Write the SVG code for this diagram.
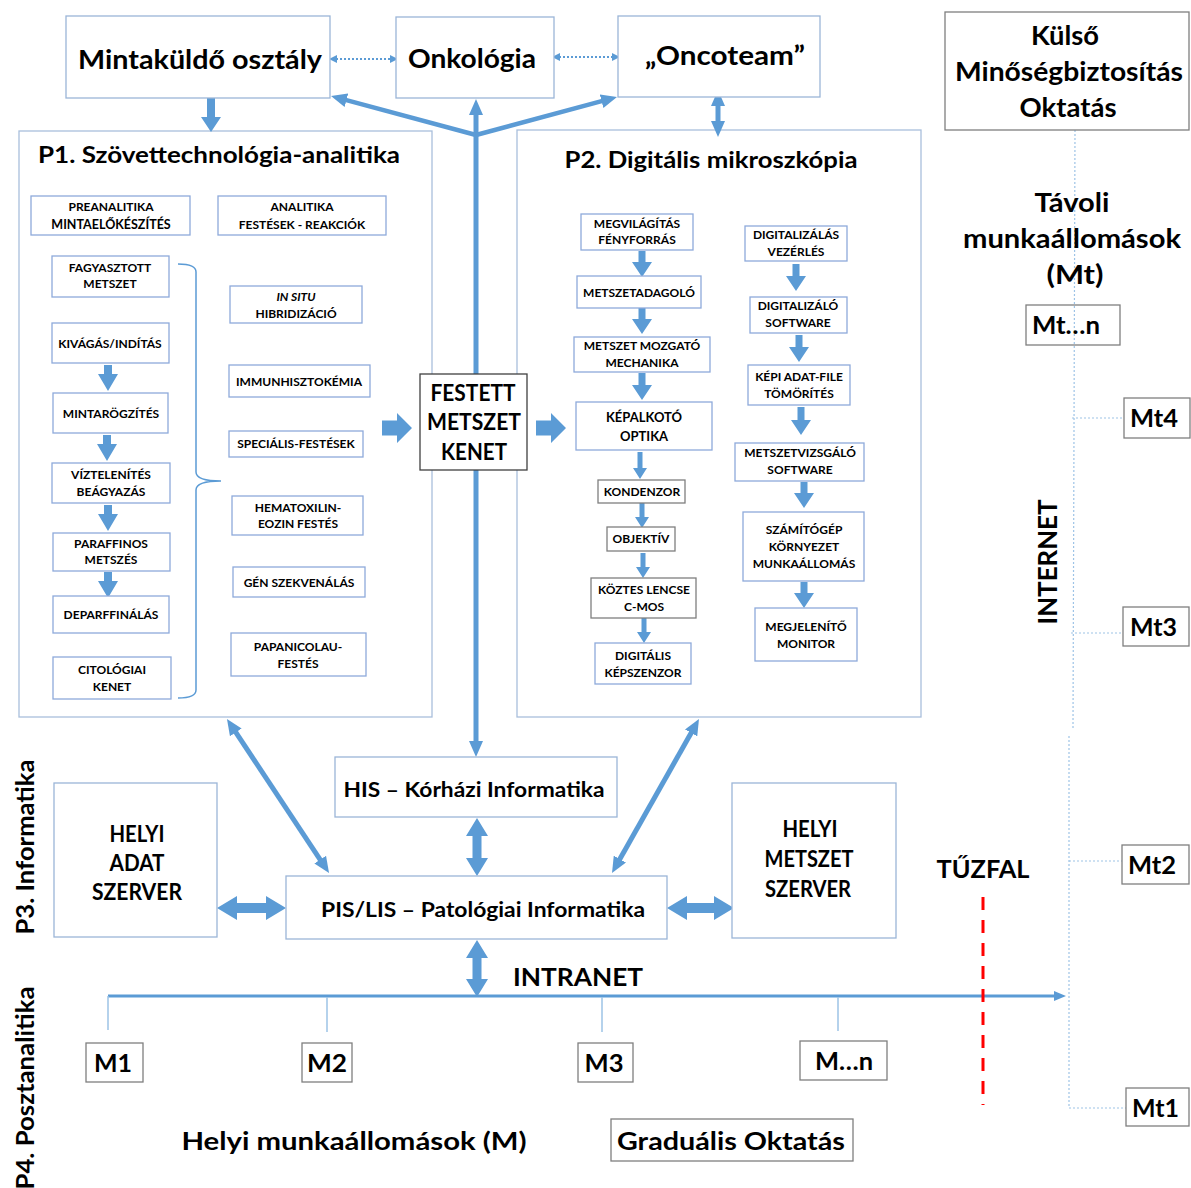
<svg xmlns="http://www.w3.org/2000/svg" width="1191" height="1188" viewBox="0 0 1191 1188">
<defs>
<style>
text{font-family:Lato,'Liberation Sans',sans-serif;font-weight:700;fill:#000;text-anchor:middle}
.s{font-size:12px}
.m{font-size:13px}
.st{text-anchor:start}
.b{fill:#fff;stroke:#9bb5d8;stroke-width:1.3}
.bs{fill:#fff;stroke:#8eaadb;stroke-width:1.3}
.k{fill:#fff;stroke:#7f7f7f;stroke-width:1.3}
.kd{fill:#fff;stroke:#404040;stroke-width:1.3}
.c{fill:none;stroke:#a9bfdc;stroke-width:1.3}
.a{fill:#5b9bd5}
.ln{stroke:#5b9bd5;fill:none}
.dot{stroke:#5b9bd5;stroke-width:2;stroke-dasharray:2 2;fill:none}
.rd{stroke:#9dc3e6;stroke-width:1.2;stroke-dasharray:2 2;fill:none}
.drop{stroke:#9dc3e6;stroke-width:1.5}
</style>
<marker id="ah" viewBox="0 0 16 14" refX="2" refY="7" markerWidth="16" markerHeight="14" markerUnits="userSpaceOnUse" orient="auto-start-reverse"><path d="M0,0 L16,7 L0,14 z" fill="#5b9bd5"/></marker>
<marker id="ahs" viewBox="0 0 8 8" refX="1" refY="4" markerWidth="8" markerHeight="8" markerUnits="userSpaceOnUse" orient="auto-start-reverse"><path d="M0,0 L8,4 L0,8 z" fill="#5b9bd5"/></marker>
<marker id="ahi" viewBox="0 0 12 10" refX="2" refY="5" markerWidth="12" markerHeight="10" markerUnits="userSpaceOnUse" orient="auto"><path d="M0,0 L12,5 L0,10 z" fill="#5b9bd5"/></marker>
</defs>
<rect width="1191" height="1188" fill="#fff"/>

<!-- containers -->
<g id="p1">
<rect x="19" y="131" width="413" height="586" class="c"/>
<text x="38" y="163" class="st" font-size="22" textLength="362" lengthAdjust="spacingAndGlyphs">P1. Szövettechnológia-analitika</text>
</g>
<g id="p2">
<rect x="517" y="130" width="404" height="587" class="c"/>
<text x="711" y="168" font-size="22" textLength="293" lengthAdjust="spacingAndGlyphs">P2. Digitális mikroszkópia</text>
</g>

<!-- connectors -->
<g id="connectors">
<line x1="336" y1="59" x2="391" y2="59" class="dot" marker-start="url(#ahs)" marker-end="url(#ahs)"/>
<line x1="559" y1="57" x2="613" y2="57" class="dot" marker-start="url(#ahs)" marker-end="url(#ahs)"/>
<polygon class="a" points="207,98 215,98 215,117 221,117 211,132 201,117 207,117"/>
<line x1="476" y1="136" x2="476" y2="113" class="ln" stroke-width="5" marker-end="url(#ah)"/>
<line x1="476" y1="133" x2="476" y2="743" class="ln" stroke-width="5" marker-end="url(#ah)"/>
<line x1="476" y1="135" x2="344.5" y2="99.6" class="ln" stroke-width="4.5" marker-end="url(#ah)"/>
<line x1="476" y1="135" x2="603.5" y2="100.6" class="ln" stroke-width="4.5" marker-end="url(#ah)"/>
<line x1="718" y1="104" x2="718" y2="123" class="ln" stroke-width="5" marker-start="url(#ah)" marker-end="url(#ah)"/>
<line x1="234.7" y1="730.7" x2="321.3" y2="861.3" class="ln" stroke-width="5" marker-start="url(#ah)" marker-end="url(#ah)"/>
<line x1="692.1" y1="731.2" x2="618.9" y2="860.8" class="ln" stroke-width="5" marker-start="url(#ah)" marker-end="url(#ah)"/>
<polygon class="a" points="477,818 488,836 481.5,836 481.5,858 488,858 477,876 466,858 472.5,858 472.5,836 466,836"/>
<polygon class="a" points="477,940 488,958 481.5,958 481.5,979 488,979 477,997 466,979 472.5,979 472.5,958 466,958"/>
<polygon class="a" points="217,908 237,896 237,903 266,903 266,896 286,908 266,920 266,913 237,913 237,920"/>
<polygon class="a" points="667,908 687,896 687,903 714,903 714,896 734,908 714,920 714,913 687,913 687,920"/>
<polygon class="a" points="382,420.5 397,420.5 397,413 412,428 397,443 397,435.5 382,435.5"/>
<polygon class="a" points="536,420.5 551,420.5 551,413 566,428 551,443 551,435.5 536,435.5"/>
<!-- P1 flow -->
<polygon class="a" points="104,365 112,365 112,374 118,374 108,391 98,374 104,374"/>
<polygon class="a" points="103,435 111,435 111,444 117,444 107,461 97,444 103,444"/>
<polygon class="a" points="104,505 112,505 112,514 118,514 108,531 98,514 104,514"/>
<polygon class="a" points="104,572 112,572 112,581 118,581 108,598 98,581 104,581"/>
<!-- brace -->
<path d="M178,264 Q196,264 196,272 L196,472 Q196,481 221,481 Q196,481 196,490 L196,690 Q196,698 178,698" fill="none" stroke="#5b9bd5" stroke-width="1.5"/>
<!-- P2 flow -->
<polygon class="a" points="638.5,251 645.5,251 645.5,262 652,262 642,277 632,262 638.5,262"/>
<polygon class="a" points="638.5,308 645.5,308 645.5,319 652,319 642,334 632,319 638.5,319"/>
<polygon class="a" points="638.5,373 645.5,373 645.5,385 652,385 642,400 632,385 638.5,385"/>
<polygon class="a" points="637.5,452 642.5,452 642.5,468 647,468 640,479 633,468 637.5,468"/>
<polygon class="a" points="639.5,503 644.5,503 644.5,517 649,517 642,528 635,517 639.5,517"/>
<polygon class="a" points="640.5,553 645.5,553 645.5,567 650,567 643,578 636,567 640.5,567"/>
<polygon class="a" points="641.5,618 646.5,618 646.5,632 651,632 644,643 637,632 641.5,632"/>
<polygon class="a" points="792.5,264 799.5,264 799.5,276 806,276 796,291 786,276 792.5,276"/>
<polygon class="a" points="795.5,335 802.5,335 802.5,347 809,347 799,362 789,347 795.5,347"/>
<polygon class="a" points="797.5,407 804.5,407 804.5,420 811,420 801,435 791,420 797.5,420"/>
<polygon class="a" points="800.5,482 807.5,482 807.5,493 814,493 804,508 794,493 800.5,493"/>
<polygon class="a" points="800.5,582 807.5,582 807.5,593 814,593 804,608 794,593 800.5,593"/>
<!-- intranet -->
<line x1="108" y1="996" x2="1056" y2="996" class="ln" stroke-width="3" marker-end="url(#ahi)"/>
<line x1="108" y1="996" x2="108" y2="1030" class="drop"/>
<line x1="327" y1="997" x2="327" y2="1032" class="drop"/>
<line x1="602" y1="997" x2="602" y2="1032" class="drop"/>
<line x1="838" y1="997" x2="838" y2="1031" class="drop"/>
<line x1="983" y1="897" x2="983" y2="1105" stroke="#ff0000" stroke-width="3" stroke-dasharray="13 10"/>
<!-- internet -->
<line x1="1075" y1="130" x2="1073" y2="728" class="rd"/>
<line x1="1069" y1="736" x2="1069" y2="1108" class="rd"/>
<line x1="1072" y1="418" x2="1124" y2="418" class="rd"/>
<line x1="1071" y1="633" x2="1123" y2="633" class="rd"/>
<line x1="1069" y1="861" x2="1122" y2="861" class="rd"/>
<line x1="1069" y1="1108" x2="1126" y2="1108" class="rd"/>
</g>

<!-- top nodes -->
<g id="mintakuldo"><rect x="66" y="16" width="264" height="82" class="b"/><text x="200" y="69" font-size="27" textLength="244" lengthAdjust="spacingAndGlyphs">Mintaküldő osztály</text></g>
<g id="onkologia"><rect x="396" y="17" width="158" height="81" class="b"/><text x="472" y="68" font-size="27" textLength="128" lengthAdjust="spacingAndGlyphs">Onkológia</text></g>
<g id="oncoteam"><rect x="618" y="16" width="202" height="81" class="b"/><text x="725" y="65" font-size="27" textLength="160" lengthAdjust="spacingAndGlyphs">„Oncoteam”</text></g>
<g id="kulso"><rect x="945" y="12" width="244" height="118" class="k"/>
<text x="1065" y="45" font-size="26" textLength="68" lengthAdjust="spacingAndGlyphs">Külső</text>
<text x="1069" y="81" font-size="26" textLength="228" lengthAdjust="spacingAndGlyphs">Minőségbiztosítás</text>
<text x="1068" y="117" font-size="26" textLength="97" lengthAdjust="spacingAndGlyphs">Oktatás</text></g>
<g id="tavoli">
<text x="1072" y="212" font-size="26" textLength="75" lengthAdjust="spacingAndGlyphs">Távoli</text>
<text x="1072" y="248" font-size="26" textLength="218" lengthAdjust="spacingAndGlyphs">munkaállomások</text>
<text x="1075" y="284" font-size="26" textLength="57" lengthAdjust="spacingAndGlyphs">(Mt)</text></g>

<!-- P1 nodes -->
<g id="preanalitika"><rect x="31" y="196" width="159" height="39" class="bs"/><text x="111" y="211" class="s" font-size="12.5">PREANALITIKA</text><text x="111" y="229" class="s" style="font-size:12.5px">MINTAELŐKÉSZÍTÉS</text></g>
<g id="analitika"><rect x="218" y="196" width="168" height="39" class="bs"/><text x="302" y="211" class="s">ANALITIKA</text><text x="302" y="229" class="s">FESTÉSEK - REAKCIÓK</text></g>
<g id="fagyasztott"><rect x="52" y="256" width="117" height="41" class="bs"/><text x="110" y="272" class="s">FAGYASZTOTT</text><text x="110" y="288" class="s">METSZET</text></g>
<g id="kivagas"><rect x="52" y="323" width="117" height="40" class="bs"/><text x="110" y="348" class="s">KIVÁGÁS/INDÍTÁS</text></g>
<g id="mintarogzites"><rect x="53" y="393" width="115" height="40" class="bs"/><text x="111" y="418" class="s">MINTARÖGZÍTÉS</text></g>
<g id="viztelenites"><rect x="52" y="463" width="118" height="40" class="bs"/><text x="111" y="479" class="s">VÍZTELENÍTÉS</text><text x="111" y="496" class="s">BEÁGYAZÁS</text></g>
<g id="paraffinos"><rect x="53" y="533" width="117" height="38" class="bs"/><text x="111" y="548" class="s">PARAFFINOS</text><text x="111" y="564" class="s">METSZÉS</text></g>
<g id="deparaffinalas"><rect x="53" y="596" width="116" height="37" class="bs"/><text x="111" y="619" class="s">DEPARFFINÁLÁS</text></g>
<g id="citologiai"><rect x="53" y="657" width="118" height="42" class="bs"/><text x="112" y="674" class="s">CITOLÓGIAI</text><text x="112" y="691" class="s">KENET</text></g>
<g id="insitu"><rect x="230" y="286" width="132" height="37" class="bs"/><text x="296" y="301" class="s" font-style="italic">IN SITU</text><text x="296" y="318" class="s">HIBRIDIZÁCIÓ</text></g>
<g id="immun"><rect x="229" y="365" width="141" height="32" class="bs"/><text x="299" y="386" class="s">IMMUNHISZTOKÉMIA</text></g>
<g id="specialis"><rect x="229" y="431" width="134" height="26" class="bs"/><text x="296" y="448" class="s">SPECIÁLIS-FESTÉSEK</text></g>
<g id="hematoxilin"><rect x="232" y="496" width="131" height="39" class="bs"/><text x="298" y="512" class="s">HEMATOXILIN-</text><text x="298" y="528" class="s">EOZIN FESTÉS</text></g>
<g id="gen"><rect x="233" y="567" width="132" height="30" class="bs"/><text x="299" y="587" class="s">GÉN SZEKVENÁLÁS</text></g>
<g id="papanicolau"><rect x="231" y="633" width="135" height="43" class="bs"/><text x="298" y="651" class="s">PAPANICOLAU-</text><text x="298" y="668" class="s">FESTÉS</text></g>

<g id="festett"><rect x="420" y="374" width="107" height="96" class="kd"/>
<text x="473" y="401" font-size="22" textLength="85" lengthAdjust="spacingAndGlyphs">FESTETT</text>
<text x="474" y="430" font-size="22" textLength="94" lengthAdjust="spacingAndGlyphs">METSZET</text>
<text x="474" y="460" font-size="22" textLength="66" lengthAdjust="spacingAndGlyphs">KENET</text></g>

<!-- P2 nodes -->
<g id="megvilagitas"><rect x="581" y="214" width="112" height="36" class="bs"/><text x="637" y="228" class="s">MEGVILÁGÍTÁS</text><text x="637" y="244" class="s">FÉNYFORRÁS</text></g>
<g id="metszetadagolo"><rect x="577" y="276" width="124" height="32" class="bs"/><text x="639" y="297" class="s">METSZETADAGOLÓ</text></g>
<g id="mozgato"><rect x="574" y="337" width="136" height="35" class="bs"/><text x="642" y="350" class="s">METSZET MOZGATÓ</text><text x="642" y="367" class="s">MECHANIKA</text></g>
<g id="kepalkoto"><rect x="576" y="402" width="136" height="48" class="bs"/><text x="644" y="422" class="m">KÉPALKOTÓ</text><text x="644" y="441" class="m">OPTIKA</text></g>
<g id="kondenzor"><rect x="598" y="480" width="87" height="23" class="k"/><text x="642" y="496" class="s">KONDENZOR</text></g>
<g id="objektiv"><rect x="607" y="527" width="68" height="24" class="k"/><text x="641" y="543" class="s">OBJEKTÍV</text></g>
<g id="koztes"><rect x="591" y="578" width="105" height="40" class="k"/><text x="644" y="594" class="s">KÖZTES  LENCSE</text><text x="644" y="611" class="s">C-MOS</text></g>
<g id="kepszenzor"><rect x="595" y="643" width="96" height="41" class="bs"/><text x="643" y="660" class="s">DIGITÁLIS</text><text x="643" y="677" class="s">KÉPSZENZOR</text></g>
<g id="vezerles"><rect x="745" y="226" width="102" height="35" class="bs"/><text x="796" y="239" class="s">DIGITALIZÁLÁS</text><text x="796" y="256" class="s">VEZÉRLÉS</text></g>
<g id="digsoftware"><rect x="750" y="297" width="97" height="36" class="bs"/><text x="798" y="310" class="s">DIGITALIZÁLÓ</text><text x="798" y="327" class="s">SOFTWARE</text></g>
<g id="tomorites"><rect x="748" y="365" width="102" height="40" class="bs"/><text x="799" y="381" class="s">KÉPI ADAT-FILE</text><text x="799" y="398" class="s">TÖMÖRÍTÉS</text></g>
<g id="vizsgalo"><rect x="735" y="443" width="129" height="38" class="bs"/><text x="800" y="457" class="s">METSZETVIZSGÁLÓ</text><text x="800" y="474" class="s">SOFTWARE</text></g>
<g id="szamitogep"><rect x="743" y="512" width="121" height="69" class="bs"/><text x="804" y="534" class="s">SZÁMÍTÓGÉP</text><text x="804" y="551" class="s">KÖRNYEZET</text><text x="804" y="568" class="s">MUNKAÁLLOMÁS</text></g>
<g id="monitor"><rect x="755" y="608" width="102" height="53" class="bs"/><text x="806" y="631" class="s">MEGJELENÍTŐ</text><text x="806" y="648" class="s">MONITOR</text></g>

<!-- informatics -->
<g id="his"><rect x="335" y="757" width="282" height="60" class="b"/><text x="474" y="797" font-size="21" textLength="261" lengthAdjust="spacingAndGlyphs">HIS – Kórházi Informatika</text></g>
<g id="pis"><rect x="286" y="876" width="381" height="63" class="b"/><text x="483" y="917" font-size="21" textLength="324" lengthAdjust="spacingAndGlyphs">PIS/LIS – Patológiai Informatika</text></g>
<g id="adatszerver"><rect x="54" y="783" width="163" height="154" class="b"/>
<text x="137" y="842" font-size="22" textLength="55" lengthAdjust="spacingAndGlyphs">HELYI</text>
<text x="137" y="871" font-size="22" textLength="55" lengthAdjust="spacingAndGlyphs">ADAT</text>
<text x="137" y="900" font-size="22" textLength="90" lengthAdjust="spacingAndGlyphs">SZERVER</text></g>
<g id="metszetszerver"><rect x="732" y="783" width="164" height="155" class="b"/>
<text x="810" y="837" font-size="22" textLength="55" lengthAdjust="spacingAndGlyphs">HELYI</text>
<text x="809" y="867" font-size="22" textLength="89" lengthAdjust="spacingAndGlyphs">METSZET</text>
<text x="808" y="897" font-size="22" textLength="86" lengthAdjust="spacingAndGlyphs">SZERVER</text></g>

<text x="578" y="986" font-size="25" textLength="130" lengthAdjust="spacingAndGlyphs">INTRANET</text>
<text x="983" y="878" font-size="25" textLength="93" lengthAdjust="spacingAndGlyphs">TŰZFAL</text>
<text x="354" y="1150" font-size="25" textLength="345" lengthAdjust="spacingAndGlyphs">Helyi munkaállomások (M)</text>
<text transform="translate(34,847) rotate(-90)" font-size="25" textLength="175" lengthAdjust="spacingAndGlyphs">P3. Informatika</text>
<text transform="translate(34,1088) rotate(-90)" font-size="25" textLength="203" lengthAdjust="spacingAndGlyphs">P4. Posztanalitika</text>
<text transform="translate(1057,562) rotate(-90)" font-size="26" textLength="125" lengthAdjust="spacingAndGlyphs">INTERNET</text>

<g id="m1"><rect x="86" y="1043" width="57" height="39" class="k"/><text x="113" y="1072" font-size="24" textLength="38" lengthAdjust="spacingAndGlyphs">M1</text></g>
<g id="m2"><rect x="302" y="1043" width="50" height="39" class="k"/><text x="327" y="1072" font-size="24" textLength="40" lengthAdjust="spacingAndGlyphs">M2</text></g>
<g id="m3"><rect x="578" y="1043" width="55" height="39" class="k"/><text x="604" y="1072" font-size="24" textLength="39" lengthAdjust="spacingAndGlyphs">M3</text></g>
<g id="mn"><rect x="800" y="1041" width="87" height="39" class="k"/><text x="844" y="1070" font-size="24" textLength="58" lengthAdjust="spacingAndGlyphs">M…n</text></g>
<g id="gradualis"><rect x="611" y="1119" width="242" height="42" class="k"/><text x="731" y="1150" font-size="25" textLength="228" lengthAdjust="spacingAndGlyphs">Graduális Oktatás</text></g>

<g id="mtn"><rect x="1026" y="305" width="94" height="40" fill="none" stroke="#7f7f7f" stroke-width="1.3"/><text x="1032" y="334" class="st" font-size="24" textLength="68" lengthAdjust="spacingAndGlyphs">Mt…n</text></g>
<g id="mt4"><rect x="1124" y="398" width="66" height="40" class="k"/><text x="1130" y="427" class="st" font-size="24" textLength="48" lengthAdjust="spacingAndGlyphs">Mt4</text></g>
<g id="mt3"><rect x="1123" y="607" width="66" height="39" class="k"/><text x="1130" y="636" class="st" font-size="24" textLength="47" lengthAdjust="spacingAndGlyphs">Mt3</text></g>
<g id="mt2"><rect x="1122" y="845" width="67" height="39" class="k"/><text x="1128" y="874" class="st" font-size="24" textLength="48" lengthAdjust="spacingAndGlyphs">Mt2</text></g>
<g id="mt1"><rect x="1126" y="1088" width="63" height="38" class="k"/><text x="1132" y="1117" class="st" font-size="24" textLength="47" lengthAdjust="spacingAndGlyphs">Mt1</text></g>
</svg>
